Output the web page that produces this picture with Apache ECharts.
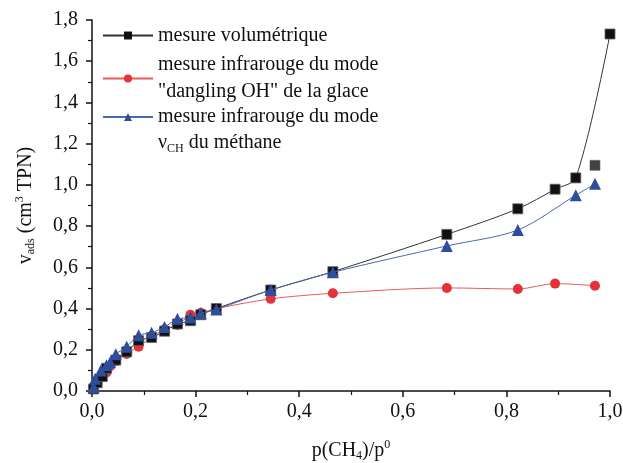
<!DOCTYPE html>
<html>
<head>
<meta charset="utf-8">
<script src="https://cdn.jsdelivr.net/npm/echarts@6/dist/echarts.min.js"></script>
<style>html,body{margin:0;padding:0;background:#fff}#c{width:623px;height:463px}</style>
</head>
<body>
<div id="c"></div>
<script>
// Volumetric measurement (line passes through these)
var volX = [0.003,0.01,0.02,0.028,0.046,0.067,0.09,0.115,0.14,0.165,0.19,0.21,0.24,0.345,0.465,0.685,0.822,0.894,0.934,1.0];
var volY = [0.01,0.04,0.07,0.11,0.15,0.19,0.244,0.26,0.29,0.325,0.341,0.37,0.40,0.49,0.579,0.76,0.884,0.979,1.034,1.732];
// Volumetric point lying off the fitted curve
var volOffX = [0.971];
var volOffY = [1.095];
// IR "dangling OH"
var ohX = [0.003,0.01,0.02,0.028,0.035,0.046,0.067,0.09,0.115,0.14,0.165,0.19,0.21,0.24,0.345,0.465,0.685,0.822,0.894,0.971];
var ohY = [0.015,0.04,0.07,0.09,0.12,0.145,0.18,0.215,0.26,0.30,0.32,0.37,0.38,0.40,0.447,0.474,0.50,0.495,0.521,0.511];
// IR nu_CH methane
var chX = [0.003,0.006,0.017,0.028,0.035,0.046,0.067,0.09,0.115,0.14,0.165,0.19,0.21,0.24,0.345,0.465,0.685,0.822,0.934,0.971];
var chY = [0.02,0.06,0.10,0.125,0.14,0.178,0.215,0.27,0.283,0.31,0.35,0.356,0.377,0.396,0.49,0.576,0.704,0.781,0.95,1.005];

var xTicks = [0,0.2,0.4,0.6,0.8,1.0];
var yTicks = [0,0.2,0.4,0.6,0.8,1.0,1.2,1.4,1.6,1.8];

function pairs(xs, ys){ return xs.map(function(x,i){ return [x, ys[i]]; }); }
function fmt(v){ return v.toFixed(1).replace('.', ','); }

var FONT = 'Liberation Serif';
var FS = 20;
var n1 = 'mesure volumétrique';
var n2 = 'mesure infrarouge du mode\n"dangling OH" de la glace';
var n3 = 'mesure infrarouge du mode\nνCH du méthane';

var chart = echarts.init(document.getElementById('c'), null, {renderer: 'canvas'});
var legendBase = {
  orient: 'vertical', left: 97, itemWidth: 50, itemHeight: 10, itemGap: 0,
  itemStyle: {borderWidth: 0},
  textStyle: {fontFamily: FONT, fontSize: FS, color: '#111', lineHeight: 27}
};
function lg(name, top, extra){
  var o = JSON.parse(JSON.stringify(legendBase));
  o.data = [name]; o.top = top;
  if (extra) { for (var k in extra) o.textStyle[k] = extra[k]; }
  return o;
}
var legend3 = lg(n3, 73, {padding: [26,0,0,0], rich: {
  n: {fontFamily: FONT, fontSize: FS, color: '#111', lineHeight: 26},
  s: {fontFamily: FONT, fontSize: 12, color: '#111', lineHeight: 26, padding: [12,0,0,0]}
}});
legend3.formatter = function(){ return '{n|mesure infrarouge du mode}\n{n|ν}{s|CH}{n| du méthane}'; };

var richTitle = {
  a: {fontFamily: FONT, fontSize: FS, color: '#111'},
  s: {fontFamily: FONT, fontSize: 12, color: '#111', padding: [11,0,0,0]},
  p: {fontFamily: FONT, fontSize: 12, color: '#111', padding: [0,0,11,0]}
};

chart.setOption({
  animation: false,
  grid: {left: 92, right: 13, top: 20, bottom: 72, containLabel: false, outerBoundsMode: 'none'},
  legend: [
    lg(n1, 17),
    lg(n2, 33, {padding: [27,0,0,0]}),
    legend3
  ],
  xAxis: {
    type: 'value', min: 0, max: 1, interval: 0.2,
    name: '{a|p(CH}{s|4}{a|)/p}{p|0}', nameLocation: 'middle', nameGap: 48,
    nameTextStyle: {rich: richTitle},
    axisLine: {show: true, onZero: false, lineStyle: {color: '#111', width: 1.5}},
    axisTick: {show: true, inside: false, length: 6, lineStyle: {color: '#111', width: 1.5}},
    minorTick: {show: true, splitNumber: 2, length: 4, lineStyle: {color: '#111', width: 1.2}},
    splitLine: {show: false},
    axisLabel: {fontFamily: FONT, fontSize: FS, color: '#111', margin: 11, formatter: fmt}
  },
  yAxis: {
    type: 'value', min: 0, max: 1.8, interval: 0.2,
    name: '{a|v}{s|ads}{a| (cm}{p|3}{a| TPN)}', nameLocation: 'middle', nameGap: 55, nameRotate: 90,
    nameTextStyle: {rich: richTitle},
    axisLine: {show: true, onZero: false, lineStyle: {color: '#111', width: 1.5}},
    axisTick: {show: true, inside: false, length: 6, lineStyle: {color: '#111', width: 1.5}},
    minorTick: {show: true, splitNumber: 2, length: 4, lineStyle: {color: '#111', width: 1.2}},
    splitLine: {show: false},
    axisLabel: {fontFamily: FONT, fontSize: FS, color: '#111', margin: 14, formatter: fmt}
  },
  series: [
    {name: n1, type: 'line', data: pairs(volX, volY), smooth: 0.3, clip: false,
     symbol: 'rect', symbolSize: 10, itemStyle: {color: '#111', borderColor: '#666', borderWidth: 0.8},
     lineStyle: {color: '#333', width: 1}, z: 3},
    {name: n1, type: 'scatter', data: pairs(volOffX, volOffY), clip: false,
     symbol: 'rect', symbolSize: 10, itemStyle: {color: '#111', borderColor: '#666', borderWidth: 0.8}, z: 3},
    {name: n2, type: 'line', data: pairs(ohX, ohY), smooth: 0.3, clip: false,
     symbol: 'circle', symbolSize: 10, itemStyle: {color: '#e4323a'},
     lineStyle: {color: '#e85a5a', width: 1}, z: 2},
    {name: n3, type: 'line', data: pairs(chX, chY), smooth: 0.3, clip: false,
     symbol: 'triangle', symbolSize: 12, itemStyle: {color: '#2f4d9b'},
     lineStyle: {color: '#4a68b0', width: 1}, z: 4}
  ]
});
</script>
</body>
</html>
